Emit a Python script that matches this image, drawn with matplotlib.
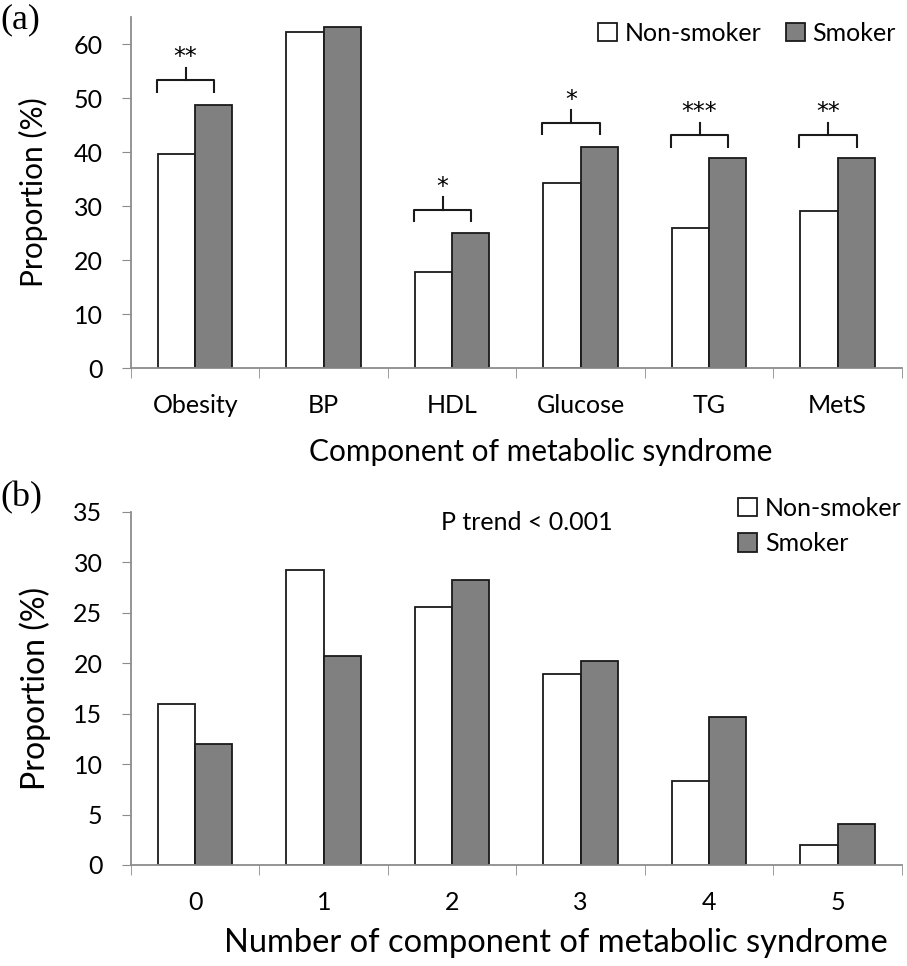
import numpy as np
import matplotlib
matplotlib.use('Agg')
import matplotlib.pyplot as plt

plt.rcParams['font.family'] = ['Lato', 'DejaVu Sans']

# panel (a)
components = ['Obesity', 'BP', 'HDL', 'Glucose', 'TG', 'MetS']
nonsmoker_a = [39.6, 62.2, 17.8, 34.2, 25.9, 29.1]
smoker_a = [48.7, 63.2, 25.0, 41.0, 38.9, 38.9]
sig_idx = [0, 2, 3, 4, 5]
sig_marks = ['**', '*', '*', '***', '**']
sig_y = [53.3, 29.3, 45.4, 43.1, 43.1]

# panel (b)
n_components = ['0', '1', '2', '3', '4', '5']
nonsmoker_b = [16.0, 29.2, 25.6, 18.9, 8.3, 2.0]
smoker_b = [12.0, 20.7, 28.3, 20.2, 14.7, 4.1]

W = 0.29
AXC = '#8c8c8c'
EDGE = '#1a1a1a'
GREY = '#808080'


def style_axes(ax, ymax, step, labels):
    x = np.arange(len(labels))
    ax.set_xlim(-0.5, len(labels) - 0.5)
    ax.set_ylim(0, ymax)
    ax.set_yticks(np.arange(0, ymax + 0.01, step))
    ax.set_xticks(x)
    ax.set_xticklabels(labels)
    ax.set_xticks(np.arange(-0.5, len(labels), 1), minor=True)
    ax.tick_params(axis='x', which='major', length=0, pad=19, labelsize=18)
    ax.tick_params(axis='x', which='minor', length=7, color=AXC, direction='out')
    ax.tick_params(axis='y', length=6.5, color=AXC, labelsize=18, pad=14)
    for s in ['top', 'right']:
        ax.spines[s].set_visible(False)
    for s in ['left', 'bottom']:
        ax.spines[s].set_color(AXC)
        ax.spines[s].set_linewidth(1.3)


fig = plt.figure(figsize=(9.07, 9.66), dpi=100)
ax1 = fig.add_axes([0.1444, 0.619, 0.850, 0.3634])
ax2 = fig.add_axes([0.1444, 0.1046, 0.850, 0.3654])

# (a)
x = np.arange(len(components))
ax1.bar(x - W / 2, nonsmoker_a, W, color='white', edgecolor=EDGE, linewidth=1.3, label='Non-smoker')
ax1.bar(x + W / 2, smoker_a, W, color=GREY, edgecolor=EDGE, linewidth=1.3, label='Smoker')
style_axes(ax1, 65, 10, components)
ax1.set_ylabel('Proportion (%)', fontsize=21.5, labelpad=18)
ax1.set_xlabel('Component of metabolic syndrome', fontsize=21.5)
ax1.xaxis.set_label_coords(0.532, -0.2)

for i, m, y in zip(sig_idx, sig_marks, sig_y):
    xl, xr, xs = i - 0.30, i + 0.15, i - 0.075
    ax1.plot([xl, xl, xr, xr], [y - 2.3, y, y, y - 2.3], color=EDGE, lw=1.5, solid_capstyle='butt')
    ax1.plot([xs, xs], [y, y + 2.3], color=EDGE, lw=1.5)
    ax1.text(xs, y + 2.0, m, ha='center', va='bottom', fontsize=17, family='DejaVu Sans')

ax1.legend(loc='upper right', bbox_to_anchor=(1.005, 1.015), ncol=2, frameon=False, fontsize=18,
           handlelength=0.75, handleheight=0.75, handletextpad=0.3, columnspacing=1.0, borderaxespad=0)
fig.text(0.0, 0.979, '(a)', fontsize=26, family='Liberation Serif', va='center')

# (b)
x = np.arange(len(n_components))
ax2.bar(x - W / 2, nonsmoker_b, W, color='white', edgecolor=EDGE, linewidth=1.3, label='Non-smoker')
ax2.bar(x + W / 2, smoker_b, W, color=GREY, edgecolor=EDGE, linewidth=1.3, label='Smoker')
style_axes(ax2, 35, 5, n_components)
ax2.set_ylabel('Proportion (%)', fontsize=23, labelpad=16)
ax2.set_xlabel('Number of component of metabolic syndrome', fontsize=23.5)
ax2.xaxis.set_label_coords(0.551, -0.18)
ax2.text(2.58, 34.0, 'P trend < 0.001', ha='center', va='center', fontsize=18)
ax2.legend(loc='upper left', bbox_to_anchor=(0.775, 1.072), ncol=1, frameon=False, fontsize=18,
           handlelength=0.75, handleheight=0.75, handletextpad=0.3, labelspacing=0.5, borderaxespad=0)
fig.text(0.0, 0.4845, '(b)', fontsize=26, family='Liberation Serif', va='center')

fig.savefig('out.png', dpi=100)
